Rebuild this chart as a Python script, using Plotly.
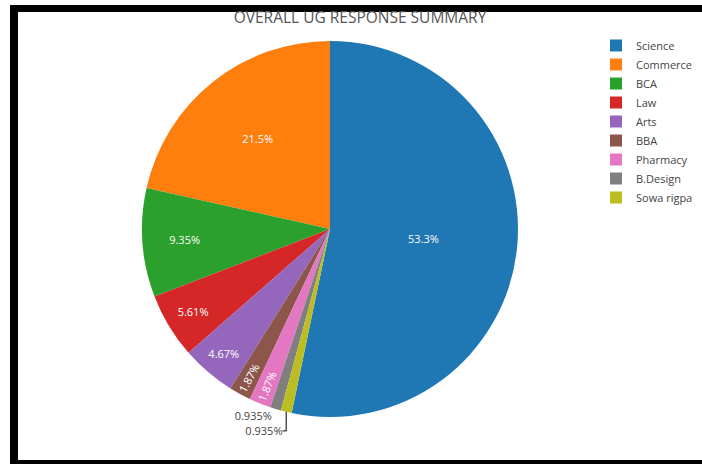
import plotly.graph_objects as go

categories = ["Science", "Commerce", "BCA", "Law", "Arts", "BBA", "Pharmacy", "B.Design", "Sowa rigpa"]
responses = [57, 23, 10, 6, 5, 2, 2, 1, 1]
colors = ["#1f77b4", "#ff7f0e", "#2ca02c", "#d62728", "#9467bd", "#8c564b", "#e377c2", "#7f7f7f", "#bcbd22"]

W, H = 702, 464
cx, cy, r = 330, 229, 188

fig = go.Figure(go.Pie(
    labels=categories,
    values=responses,
    sort=False,
    direction="counterclockwise",
    marker=dict(colors=colors),
    textinfo="percent",
    insidetextfont=dict(color="white", size=11),
    outsidetextfont=dict(color="#444", size=11),
    domain=dict(x=[(cx - r) / W, (cx + r) / W], y=[(H - cy - r) / H, (H - cy + r) / H]),
))

fig.update_layout(
    width=W, height=H,
    margin=dict(l=0, r=0, t=0, b=0),
    font=dict(family="Open Sans, sans-serif", color="#444"),
    paper_bgcolor="white",
    title=dict(text="OVERALL UG RESPONSE SUMMARY", x=360 / W, xanchor="center",
               y=1 - 18 / H, yanchor="middle", font=dict(size=15.5, color="#555")),
    legend=dict(x=596 / W, y=1 - 31 / H, xanchor="left", yanchor="top",
                font=dict(size=11)),
    shapes=[
        dict(type="rect", xref="paper", yref="paper", x0=10 / W, x1=1, y0=1 - 12 / H, y1=1 - 5 / H,
             fillcolor="black", line=dict(width=0), layer="above"),
        dict(type="rect", xref="paper", yref="paper", x0=10 / W, x1=18 / W, y0=0, y1=1 - 5 / H,
             fillcolor="black", line=dict(width=0), layer="above"),
        dict(type="rect", xref="paper", yref="paper", x0=10 / W, x1=1, y0=0, y1=4 / H,
             fillcolor="black", line=dict(width=0), layer="above"),
    ],
)

fig.write_html("out.html")
